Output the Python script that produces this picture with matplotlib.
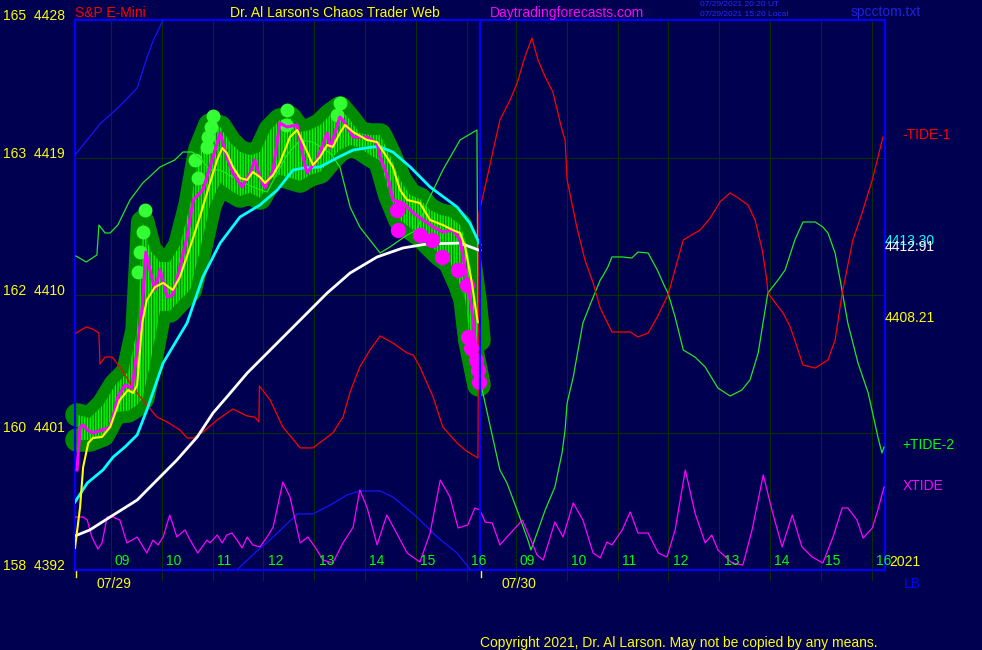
#!/usr/bin/env python3
# -*- coding: utf-8 -*-
"""
S&P E-Mini chaos trader chart, 07/29 - 07/30
price, moving averages, tides and xtide
"""

import matplotlib

matplotlib.use("Agg")
import matplotlib.pyplot as plt
import matplotlib.transforms as mtransforms

plt.rcParams["font.family"] = ["Liberation Sans", "DejaVu Sans"]
plt.rcParams["hatch.linewidth"] = 1.0

# --- data (x = hours since the 07/29 open, y = price) ---

# price bars envelope (highs / lows)
bar_t = [0.04, 0.29, 0.55, 0.79, 1.04, 1.22, 1.33, 1.47, 1.67, 1.86, 2.06, 2.26,
         2.45, 2.65, 2.85, 3.04, 3.24, 3.44, 3.63, 3.83, 4.02, 4.22, 4.42, 4.61,
         4.81, 5.01, 5.20, 5.40, 5.59, 5.79, 5.99, 6.18, 6.38, 6.58, 6.77, 6.97,
         7.17, 7.36, 7.56, 7.66, 7.75, 7.85, 7.93]
bar_hi = [4402.15, 4401.95, 4402.80, 4404.11, 4404.96, 4407.71, 4414.78, 4412.95,
          4412.16, 4412.16, 4413.27, 4415.89, 4419.49, 4421.13, 4421.00, 4420.01,
          4419.36, 4419.16, 4419.36, 4420.80, 4421.45, 4421.59, 4420.67, 4420.80,
          4421.13, 4421.78, 4422.24, 4421.45, 4420.60, 4420.47, 4420.47, 4419.16,
          4417.53, 4416.55, 4416.28, 4415.56, 4415.24, 4415.11, 4414.58, 4413.60,
          4412.16, 4409.67, 4407.05]
bar_lo = [4400.51, 4400.51, 4400.84, 4402.34, 4402.41, 4402.80, 4403.26, 4405.42,
          4408.95, 4408.95, 4409.67, 4410.33, 4412.88, 4415.89, 4417.33, 4416.87,
          4416.48, 4416.68, 4416.35, 4417.53, 4417.86, 4417.66, 4417.46, 4417.86,
          4418.05, 4418.84, 4419.49, 4419.82, 4419.62, 4419.16, 4418.77, 4416.55,
          4414.91, 4414.39, 4413.93, 4413.27, 4412.62, 4412.16, 4410.65, 4409.67,
          4407.05, 4405.42, 4404.11]

# close price (magenta)
price_t = [0.04, 0.10, 0.16, 0.24, 0.35, 0.53, 0.69, 0.84, 0.98, 1.12, 1.22, 1.32,
           1.39, 1.47, 1.57, 1.67, 1.81, 1.92, 2.06, 2.20, 2.32, 2.51, 2.71, 2.85,
           2.98, 3.10, 3.28, 3.44, 3.53, 3.63, 3.73, 3.89, 4.02, 4.16, 4.36, 4.48,
           4.55, 4.75, 4.95, 5.01, 5.20, 5.30, 5.46, 5.73, 5.93, 5.99, 6.14, 6.24,
           6.44, 6.64, 6.83, 7.03, 7.22, 7.42, 7.56, 7.66, 7.79, 7.89, 7.91]
price = [4398.55, 4401.36, 4401.49, 4401.16, 4400.97, 4401.16, 4401.36, 4403.32,
         4404.11, 4403.91, 4406.40, 4409.21, 4412.81, 4411.64, 4410.33, 4411.64,
         4409.87, 4410.00, 4411.83, 4413.80, 4416.22, 4416.87, 4419.03, 4420.60,
         4419.03, 4417.99, 4417.07, 4417.99, 4418.84, 4417.72, 4417.00, 4418.18,
         4421.26, 4421.00, 4421.13, 4419.03, 4417.99, 4418.84, 4420.60, 4419.62,
         4421.65, 4421.26, 4420.34, 4420.34, 4419.95, 4419.03, 4417.72, 4416.22,
         4416.02, 4415.37, 4414.91, 4414.45, 4414.12, 4414.25, 4413.60, 4411.64,
         4409.02, 4405.94, 4404.44]

# highs marked with green dots, lows marked with magenta dots
hi_dot_t = [1.37, 1.33, 1.28, 1.24, 2.36, 2.41, 2.59, 2.61, 2.67, 2.71, 4.16, 4.14,
            5.20, 5.14]
hi_dot_p = [4415.56, 4414.12, 4412.81, 4411.51, 4418.84, 4417.66, 4419.69, 4420.34,
            4421.00, 4421.72, 4422.11, 4421.13, 4422.57, 4421.78]
lo_dot_t = [6.32, 6.34, 6.77, 7.01, 7.20, 7.52, 7.69, 7.71, 7.77, 7.87, 7.91, 7.93]
lo_dot_p = [4415.56, 4414.25, 4413.93, 4413.60, 4412.49, 4411.64, 4410.65, 4407.25,
            4406.53, 4405.75, 4405.09, 4404.31]

# short average (yellow)
yellow_t = [0.00, 0.10, 0.16, 0.26, 0.35, 0.53, 0.69, 0.88, 1.04, 1.14, 1.22, 1.32,
            1.41, 1.57, 1.73, 1.92, 2.06, 2.26, 2.45, 2.65, 2.79, 2.89, 2.98, 3.10,
            3.24, 3.38, 3.49, 3.63, 3.73, 3.89, 4.02, 4.22, 4.36, 4.48, 4.67, 4.81,
            4.95, 5.06, 5.20, 5.30, 5.46, 5.73, 5.93, 5.99, 6.12, 6.24, 6.38, 6.52,
            6.77, 6.97, 7.22, 7.42, 7.56, 7.66, 7.79, 7.89, 7.91]
yellow = [4393.44, 4396.12, 4398.74, 4400.31, 4400.64, 4400.71, 4401.36, 4403.13,
          4403.78, 4403.59, 4404.11, 4408.17, 4409.67, 4410.52, 4410.79, 4410.33,
          4411.18, 4413.14, 4415.11, 4417.33, 4418.84, 4419.62, 4419.29, 4418.38,
          4417.66, 4417.53, 4418.05, 4417.72, 4417.33, 4417.86, 4418.64, 4420.34,
          4420.80, 4419.95, 4418.51, 4419.03, 4419.82, 4419.69, 4420.60, 4421.13,
          4420.67, 4420.15, 4420.01, 4419.69, 4419.03, 4418.38, 4416.87, 4416.22,
          4416.02, 4414.91, 4414.58, 4414.25, 4414.06, 4413.14, 4410.79, 4408.56,
          4408.21]

# medium average (cyan)
cyan_t = [0.00, 0.24, 0.55, 0.75, 0.98, 1.22, 1.41, 1.73, 2.20, 2.51, 2.85, 3.24,
          3.63, 3.97, 4.28, 4.48, 4.81, 5.14, 5.46, 5.85, 5.99, 6.24, 6.58, 6.97,
          7.50, 7.75, 7.95]
cyan = [4396.45, 4397.69, 4398.55, 4399.40, 4400.05, 4400.84, 4402.47, 4405.55,
        4408.17, 4411.18, 4413.40, 4415.11, 4415.89, 4416.87, 4418.18, 4418.31,
        4418.38, 4418.97, 4419.49, 4419.69, 4419.69, 4419.36, 4418.38, 4417.07,
        4415.76, 4414.71, 4413.30]

# long average (white)
white_t = [0.00, 0.29, 0.69, 1.22, 1.61, 2.00, 2.40, 2.71, 2.98, 3.38, 3.97, 4.42,
           4.95, 5.40, 5.93, 6.44, 6.91, 7.56, 7.95]
white = [4394.23, 4394.62, 4395.47, 4396.58, 4397.89, 4399.20, 4400.71, 4402.28,
         4403.32, 4404.89, 4406.86, 4408.36, 4410.13, 4411.44, 4412.49, 4413.08,
         4413.34, 4413.40, 4412.91]

# -TIDE-1 (red)
tide1_t = [0.02, 0.22, 0.35, 0.47, 0.49, 0.59, 0.73, 0.88, 1.08, 1.28, 1.61, 1.81,
           2.06, 2.20, 2.32, 2.51, 2.79, 3.10, 3.38, 3.53, 3.61, 3.62, 3.83, 4.08,
           4.42, 4.67, 5.06, 5.26, 5.40, 5.59, 5.79, 5.99, 6.24, 6.52, 6.64, 6.77,
           7.03, 7.22, 7.50, 7.66, 7.81, 7.91, 7.93, 8.11, 8.34, 8.54, 8.68, 8.83,
           8.97, 9.09, 9.23, 9.38, 9.56, 9.62, 9.66, 9.85, 10.01, 10.17, 10.31,
           10.54, 10.90, 11.05, 11.25, 11.43, 11.64, 11.94, 12.07, 12.27, 12.47,
           12.66, 12.86, 13.02, 13.21, 13.35, 13.49, 13.58, 13.60, 13.90, 14.04,
           14.29, 14.53, 14.78, 14.92, 15.06, 15.27, 15.45, 15.65, 15.86]
tide1 = [4407.51, 4407.91, 4407.77, 4407.51, 4405.48, 4405.94, 4405.94, 4405.29,
         4404.24, 4403.32, 4402.01, 4401.69, 4401.16, 4400.64, 4400.64, 4401.03,
         4401.82, 4402.54, 4402.08, 4402.01, 4401.69, 4404.04, 4403.13, 4401.36,
         4399.99, 4399.99, 4400.97, 4402.01, 4403.65, 4405.29, 4406.40, 4407.32,
         4406.86, 4406.20, 4406.07, 4405.29, 4403.32, 4401.36, 4400.31, 4399.85,
         4399.53, 4399.33, 4415.37, 4417.99, 4421.45, 4422.76, 4423.88, 4425.58,
         4426.82, 4425.38, 4424.27, 4423.29, 4420.80, 4420.15, 4417.53, 4414.45,
         4412.29, 4410.79, 4409.15, 4407.58, 4407.58, 4407.25, 4407.51, 4408.56,
         4410.00, 4413.60, 4413.86, 4414.25, 4415.04, 4416.09, 4416.68, 4416.35,
         4415.89, 4414.91, 4412.95, 4410.98, 4410.13, 4408.82, 4407.91, 4405.42,
         4405.22, 4405.75, 4407.05, 4410.13, 4413.60, 4415.37, 4417.53, 4420.34]

# +TIDE-2 (green)
tide2_t = [0.02, 0.22, 0.43, 0.47, 0.59, 0.69, 0.84, 1.08, 1.33, 1.67, 1.96, 2.12,
           2.30, 2.45, 2.65, 2.85, 3.10, 3.49, 3.77, 4.16, 4.42, 4.67, 5.01, 5.20,
           5.40, 5.59, 5.99, 6.18, 6.52, 6.71, 6.91, 7.22, 7.56, 7.89, 7.91, 7.95,
           8.34, 8.48, 8.70, 8.89, 8.95, 9.07, 9.23, 9.42, 9.56, 9.62, 9.66, 9.78,
           9.97, 10.11, 10.31, 10.35, 10.46, 10.54, 10.74, 10.93, 11.05, 11.25,
           11.43, 11.58, 11.64, 11.78, 11.94, 12.17, 12.37, 12.62, 12.86, 13.09,
           13.25, 13.41, 13.60, 13.80, 13.94, 14.13, 14.29, 14.53, 14.68, 14.78,
           14.92, 15.02, 15.17, 15.37, 15.57, 15.76, 15.84, 15.88]
tide2 = [4412.55, 4412.16, 4412.62, 4414.58, 4414.06, 4414.06, 4414.58, 4416.22,
         4417.33, 4418.38, 4418.84, 4419.36, 4419.36, 4418.97, 4418.18, 4418.18,
         4417.72, 4417.07, 4416.74, 4419.16, 4420.15, 4420.01, 4419.29, 4418.38,
         4415.76, 4414.45, 4412.75, 4413.14, 4413.93, 4414.25, 4416.02, 4418.18,
         4420.15, 4420.80, 4407.71, 4404.44, 4398.55, 4397.69, 4395.73, 4393.96,
         4393.31, 4394.42, 4395.93, 4397.43, 4399.66, 4401.16, 4402.93, 4404.63,
         4408.17, 4409.35, 4410.98, 4411.18, 4411.83, 4412.49, 4412.49, 4412.42,
         4412.81, 4412.75, 4411.64, 4410.52, 4410.13, 4408.56, 4406.40, 4405.94,
         4405.29, 4403.91, 4403.39, 4403.78, 4404.44, 4406.20, 4410.13, 4410.98,
         4411.64, 4413.60, 4414.78, 4414.78, 4414.45, 4414.06, 4412.75, 4410.98,
         4408.17, 4405.55, 4403.59, 4400.71, 4399.66, 4400.05]

# XTIDE (magenta, thin)
xtide_t = [0.00, 0.16, 0.24, 0.33, 0.45, 0.53, 0.63, 0.75, 0.88, 1.02, 1.12, 1.22,
           1.41, 1.53, 1.63, 1.73, 1.86, 2.00, 2.16, 2.26, 2.41, 2.59, 2.65, 2.79,
           2.89, 2.98, 3.08, 3.18, 3.28, 3.38, 3.49, 3.63, 3.77, 3.89, 4.08, 4.22,
           4.42, 4.57, 4.71, 4.87, 5.06, 5.26, 5.46, 5.59, 5.73, 5.93, 6.12, 6.28,
           6.52, 6.77, 6.97, 7.17, 7.36, 7.52, 7.71, 7.85, 7.95, 8.05, 8.19, 8.34,
           8.48, 8.78, 8.89, 9.07, 9.19, 9.42, 9.58, 9.78, 9.97, 10.17, 10.31,
           10.44, 10.54, 10.74, 10.90, 11.05, 11.25, 11.45, 11.62, 11.78, 11.98,
           12.17, 12.37, 12.50, 12.62, 12.90, 13.11, 13.29, 13.51, 13.68, 13.88,
           14.08, 14.27, 14.47, 14.68, 14.88, 15.06, 15.17, 15.35, 15.47, 15.65,
           15.76, 15.88]
xtide = [4395.47, 4395.47, 4395.27, 4394.16, 4393.37, 4393.77, 4395.47, 4395.47,
         4395.27, 4393.77, 4393.96, 4394.16, 4393.11, 4393.96, 4393.64, 4394.16,
         4395.60, 4394.16, 4394.62, 4393.96, 4393.11, 4393.96, 4393.77, 4394.29,
         4393.77, 4394.29, 4394.42, 4393.96, 4393.44, 4394.16, 4393.64, 4393.51,
         4394.16, 4394.81, 4397.76, 4396.78, 4393.77, 4394.16, 4393.51, 4392.65,
         4392.46, 4393.77, 4394.81, 4397.24, 4396.12, 4393.64, 4395.60, 4394.62,
         4393.11, 4392.52, 4394.42, 4397.89, 4396.78, 4394.75, 4394.95, 4396.06,
         4395.93, 4395.14, 4395.08, 4393.64, 4394.16, 4395.27, 4394.42, 4392.98,
         4392.65, 4395.14, 4394.16, 4396.39, 4395.27, 4393.11, 4392.79, 4393.83,
         4393.64, 4394.62, 4395.80, 4394.42, 4394.42, 4393.11, 4392.85, 4394.62,
         4398.55, 4395.73, 4393.77, 4394.29, 4393.31, 4392.46, 4392.33, 4394.62,
         4398.22, 4395.93, 4393.51, 4395.60, 4393.51, 4392.85, 4392.46, 4394.16,
         4396.06, 4396.06, 4395.27, 4394.09, 4394.75, 4395.93, 4397.43]

# long tide (blue) - runs off the top, comes back in from the bottom
blue1_t = [0.00, 0.49, 0.86, 1.22, 1.41, 1.53, 1.73, 1.86]
blue1 = [4419.16, 4421.19, 4422.31, 4423.55, 4425.51, 4426.62, 4428.00, 4429.31]
blue2_t = [3.08, 3.20, 3.57, 3.89, 4.36, 4.67, 5.01, 5.34, 5.59, 5.99, 6.24, 6.71,
           7.11, 7.50, 7.75, 7.85]
blue2 = [4391.35, 4392.07, 4393.24, 4394.16, 4395.67, 4395.67, 4396.25, 4396.91,
         4397.17, 4397.17, 4396.78, 4395.47, 4394.16, 4393.11, 4392.07, 4391.48]

# axis labels
hour_labels = ["09", "10", "11", "12", "13", "14", "15", "16"]
day_labels = ["07/29", "07/30"]
day_start = [0.0, 7.95]
tide_ticks = [165, 163, 162, 160, 158]
price_ticks = [4428, 4419, 4410, 4401, 4392]

BG = "#000050"
GRID = "#053005"
BORDER = "#0000ff"


def draw_chart():
    """畫出整張圖"""
    fig = plt.figure(figsize=(9.82, 6.5), dpi=100, facecolor=BG)
    ax = fig.add_axes([75 / 982, 80 / 650, 810 / 982, 550 / 650])
    ax.set_facecolor(BG)
    ax.set_xlim(0, 15.9)
    ax.set_ylim(4392, 4428)
    ax.set_xticks([])
    ax.set_yticks([])
    for sp in ax.spines.values():
        sp.set_color(BORDER)
        sp.set_linewidth(1.6)

    # grid
    for day in day_start:
        for i, lab in enumerate(hour_labels):
            x = day + 0.70 + i
            ax.plot([x, x], [4391.35, 4428], color=GRID, lw=0.8, clip_on=False, zorder=1)
            ax.text(x + 0.08, 4392.15, lab, color="#00ff00", fontsize=10,
                    ha="left", va="bottom", zorder=9)
    for p in price_ticks[1:-1]:
        ax.axhline(p, color=GRID, lw=0.8, zorder=1)

    # glow around price bars
    glow = "#008c00"
    ax.fill_between(bar_t, bar_lo, bar_hi, color=glow, lw=0, zorder=2)
    ax.plot(bar_t, bar_hi, color=glow, lw=17, solid_capstyle="round",
            solid_joinstyle="round", zorder=2, clip_on=False)
    ax.plot(bar_t, bar_lo, color=glow, lw=17, solid_capstyle="round",
            solid_joinstyle="round", zorder=2, clip_on=False)
    ax.fill_between(bar_t, bar_lo, bar_hi, facecolor="none", edgecolor="#00ff00",
                    hatch="||||||", lw=0, zorder=3)
    ax.plot(hi_dot_t, hi_dot_p, "o", color="#33ff33", ms=9, mec="#33ff33", zorder=3)

    # tides
    ax.plot(blue1_t, blue1, color="#1414ff", lw=0.9, zorder=4)
    ax.plot(blue2_t, blue2, color="#1414ff", lw=0.9, zorder=4)
    ax.plot(tide2_t, tide2, color="#22e622", lw=0.9, zorder=4)
    ax.plot(tide1_t, tide1, color="#ff0000", lw=0.9, zorder=4)
    ax.plot(xtide_t, xtide, color="#ff00ff", lw=0.9, zorder=4)

    # averages and price
    ax.plot(white_t, white, color="#ffffff", lw=2.0, zorder=5)
    ax.plot(cyan_t, cyan, color="#00ffff", lw=2.0, zorder=5)
    ax.plot(price_t, price, color="#ff00ff", lw=2.2, zorder=6)
    ax.plot(yellow_t, yellow, color="#ffff00", lw=1.5, zorder=7)
    ax.plot(lo_dot_t, lo_dot_p, "o", color="#ff00ff", ms=10, mec="#ff00ff", zorder=6)

    # day divider
    ax.axvline(day_start[1], color=BORDER, lw=1.6, zorder=8)

    # left price scale
    trans = mtransforms.blended_transform_factory(fig.transFigure, ax.transData)
    for tide, p in zip(tide_ticks, price_ticks):
        ax.text(65 / 982, p, f"{tide}  {p}", color="#ffff00", fontsize=10,
                ha="right", va="baseline", transform=trans)

    # dates under the axis
    for day, lab in zip(day_start, day_labels):
        ax.plot([day + 0.01, day + 0.01], [4392, 4391.55], color="#ffff00", lw=1,
                clip_on=False)
        ax.text(day + 0.42, 4391.55, lab, color="#ffff00", fontsize=10,
                ha="left", va="top")

    # right side labels
    ax.text(16.25, 4420.47, "-TIDE-1", color="#ff0000", fontsize=10, va="center",
            clip_on=False)
    ax.text(15.9, cyan[-1] + 0.25, f"{cyan[-1]:.2f}", color="#00ffff", fontsize=10,
            va="center", clip_on=False)
    ax.text(15.9, white[-1] + 0.25, f"{white[-1]:.2f}", color="#ffffff", fontsize=10,
            va="center", clip_on=False)
    ax.text(15.9, yellow[-1] + 0.3, f"{yellow[-1]:.2f}", color="#ffff00", fontsize=10,
            va="center", clip_on=False)
    ax.text(16.25, 4400.18, "+TIDE-2", color="#00ff00", fontsize=10, va="center",
            clip_on=False)
    ax.text(16.25, 4397.5, "XTIDE", color="#ff00ff", fontsize=10, va="center",
            clip_on=False)

    # header and footer
    fig.text(75 / 982, 1 - 13 / 650, "S&P E-Mini", color="#ff0000", fontsize=10,
             va="center")
    fig.text(230 / 982, 1 - 13 / 650, "Dr. Al Larson's Chaos Trader Web",
             color="#ffff00", fontsize=10, va="center")
    fig.text(490 / 982, 1 - 13 / 650, "Daytradingforecasts.com", color="#ff00ff",
             fontsize=10, va="center")
    fig.text(700 / 982, 1 - 5 / 650, "07/29/2021 20:20 UT", color="#2828ff",
             fontsize=6, va="center")
    fig.text(700 / 982, 1 - 15 / 650, "07/29/2021 15:20 Local", color="#2828ff",
             fontsize=6, va="center")
    fig.text(851 / 982, 1 - 12 / 650, "spcctom.txt", color="#2020e0", fontsize=10,
             va="center")
    fig.text(889 / 982, 1 - 562 / 650, "2021", color="#ffff00", fontsize=10,
             va="center")
    fig.text(904 / 982, 1 - 584 / 650, "LB", color="#0000ff", fontsize=10,
             va="center")
    fig.text(480 / 982, 1 - 643 / 650,
             "Copyright 2021, Dr. Al Larson. May not be copied by any means.",
             color="#ffff00", fontsize=10, va="center")

    fig.savefig("out.png", dpi=100, facecolor=BG)


if __name__ == "__main__":
    draw_chart()
